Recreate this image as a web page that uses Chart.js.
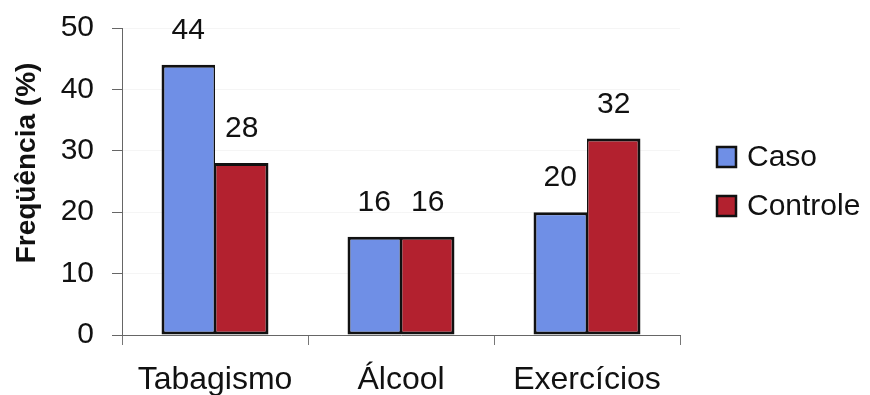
<!DOCTYPE html>
<html>
<head>
<meta charset="utf-8">
<script src="https://cdn.jsdelivr.net/npm/chart.js@4/dist/chart.umd.min.js"></script>
<style>
  html, body { margin: 0; padding: 0; background: #fff; }
  canvas { display: block; }
</style>
</head>
<body>
<canvas id="c" width="870" height="395"></canvas>
<script>
// Frequency (%) of each habit for cases and controls
const categories = ['Tabagismo', 'Álcool', 'Exercícios'];
const caso = [44, 16, 20];
const controle = [28, 16, 32];
const seriesNames = ['Caso', 'Controle'];
const yTicks = [0, 10, 20, 30, 40, 50];
const yTitle = 'Freqüência (%)';

const FONT = '"Liberation Sans", Arial, sans-serif';
const BLUE = '#6f8fe6';
const RED = '#b3212f';

// value labels above each bar
const valueLabels = {
  id: 'valueLabels',
  afterDatasetsDraw(chart) {
    const ctx = chart.ctx;
    ctx.save();
    ctx.font = '30px ' + FONT;
    ctx.fillStyle = '#111';
    ctx.textAlign = 'center';
    ctx.textBaseline = 'alphabetic';
    chart.data.datasets.forEach((ds, i) => {
      chart.getDatasetMeta(i).data.forEach((el, j) => {
        ctx.fillText(String(ds.data[j]), el.x, el.y - 26);
      });
    });
    ctx.restore();
  }
};

// rotated y-axis title and the legend at the right
const sideTexts = {
  id: 'sideTexts',
  afterDraw(chart) {
    const ctx = chart.ctx;
    ctx.save();
    ctx.translate(27, 163);
    ctx.rotate(-Math.PI / 2);
    ctx.font = 'bold 28px ' + FONT;
    ctx.fillStyle = '#111';
    ctx.textAlign = 'center';
    ctx.textBaseline = 'middle';
    ctx.fillText(yTitle, 0, 0);
    ctx.restore();

    ctx.save();
    ctx.font = '30px ' + FONT;
    ctx.textBaseline = 'middle';
    chart.data.datasets.forEach((ds, i) => {
      const y = 157 + i * 49;
      ctx.fillStyle = ds.backgroundColor;
      ctx.fillRect(717, y - 10, 19, 20);
      ctx.strokeStyle = '#111';
      ctx.lineWidth = 2.5;
      ctx.strokeRect(717, y - 10, 19, 20);
      ctx.fillStyle = '#111';
      ctx.fillText(ds.label, 747, y + 1);
    });
    ctx.restore();
  }
};

new Chart(document.getElementById('c'), {
  type: 'bar',
  data: {
    labels: categories,
    datasets: [
      {
        label: seriesNames[0],
        data: caso,
        backgroundColor: BLUE,
        borderColor: '#111',
        borderWidth: { top: 3, left: 3, bottom: 3, right: 1.5 },
        borderSkipped: false
      },
      {
        label: seriesNames[1],
        data: controle,
        backgroundColor: RED,
        borderColor: '#111',
        borderWidth: { top: 3, left: 1.5, bottom: 3, right: 3 },
        borderSkipped: false
      }
    ]
  },
  options: {
    responsive: false,
    animation: false,
    devicePixelRatio: 1,
    categoryPercentage: 0.575,
    barPercentage: 1.0,
    layout: { padding: { left: 0, top: 28, right: 190, bottom: 0 } },
    plugins: {
      legend: { display: false },
      tooltip: { enabled: false }
    },
    scales: {
      x: {
        offset: true,
        grid: {
          offset: true,
          drawOnChartArea: false,
          tickLength: 10,
          tickColor: '#777',
          color: '#777'
        },
        border: { color: '#666', width: 1 },
        ticks: {
          color: '#111',
          font: { family: FONT, size: 32 },
          padding: 16
        },
        afterFit(scale) {
          scale.height = 60;
          scale.paddingLeft = 0;
          scale.paddingRight = 0;
        }
      },
      y: {
        min: 0,
        max: 50,
        afterBuildTicks(scale) { scale.ticks = yTicks.map(v => ({ value: v })); },
        grid: {
          color: 'rgba(0,0,0,0.04)',
          tickColor: '#666',
          tickLength: 10
        },
        border: { color: '#666', width: 1 },
        ticks: {
          color: '#111',
          font: { family: FONT, size: 30 },
          padding: 18
        },
        afterFit(scale) {
          scale.width = 122;
          scale.paddingTop = 0;
          scale.paddingBottom = 0;
        }
      }
    }
  },
  plugins: [valueLabels, sideTexts]
});
</script>
</body>
</html>
